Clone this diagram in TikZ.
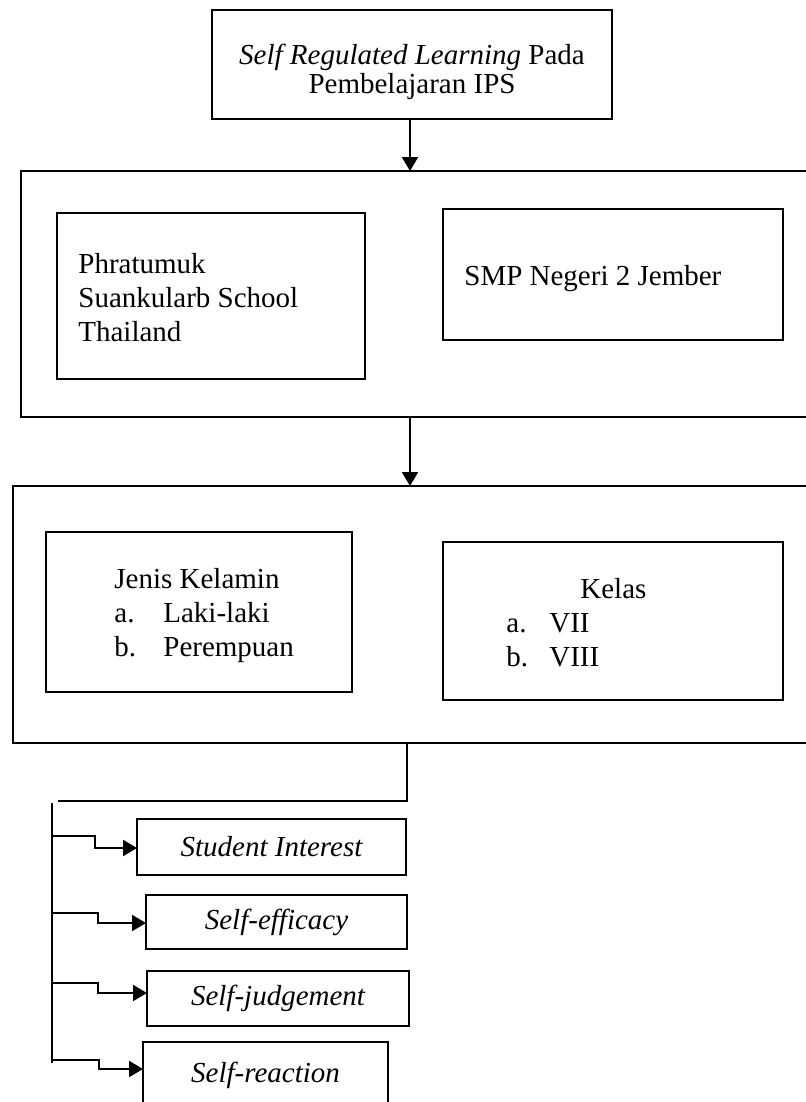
\documentclass[tikz,border=0pt]{standalone}
\usepackage{fontspec}
\setmainfont{Liberation Serif}
\usepackage{tikz}
\usetikzlibrary{arrows.meta,positioning}
\definecolor{ink}{HTML}{000000}
\definecolor{paper}{HTML}{FFFFFF}
\tikzset{
  box/.style={draw=ink, line width=1.2pt, inner sep=0pt, outer sep=0pt, anchor=north west},
  conn/.style={draw=ink, line width=1pt},
  arr/.style={conn, -{Triangle[length=7pt,width=8pt]}},
  lab/.style={text=ink, inner sep=0pt, font=\fontsize{14.5}{17}\selectfont},
  labi/.style={lab, font=\fontsize{14.5}{17}\selectfont\itshape},
}

\begin{document}
\begin{tikzpicture}[x=0.5pt,y=-0.5pt]
\useasboundingbox[fill=paper] (0,0) rectangle (806,1102);

% judul
\node[box, minimum width=200pt, minimum height=54.5pt] (srl) at (212,10) {};
\node[lab, anchor=base] (srl-t) at (412,65)
  {\fontsize{14.5}{14}\selectfont\begin{tabular}[t]{@{}c@{}}\textit{Self Regulated Learning} Pada\\ Pembelajaran IPS\end{tabular}};

% lokasi
\node[box, minimum width=397pt, minimum height=123pt] (lok) at (21,171) {};
\node[box, minimum width=154pt, minimum height=83pt] (phr) at (57,213) {};
\node[lab, anchor=base west] (phr-t) at (78,273)
  {\begin{tabular}[t]{@{}l@{}}Phratumuk\\ Suankularb School\\ Thailand\end{tabular}};
\node[box, minimum width=170pt, minimum height=65.5pt] (smp) at (443,209) {};
\node[lab, anchor=base west] (smp-t) at (464,285) {SMP Negeri 2 Jember};

% variabel
\node[box, minimum width=401pt, minimum height=128.5pt] (var) at (13,486) {};
\node[box, minimum width=153pt, minimum height=80pt] (jk) at (46,532) {};
\node[lab, anchor=base west] (jk-t) at (114,588)
  {\begin{tabular}[t]{@{}l@{}}Jenis Kelamin\\ \makebox[24.5pt][l]{a.}Laki-laki\\ \makebox[24.5pt][l]{b.}Perempuan\end{tabular}};
\node[box, minimum width=170pt, minimum height=79pt] (kls) at (443,542) {};
\node[lab, anchor=base west] (kls-t) at (506,598)
  {\begin{tabular}[t]{@{}l@{}}\hspace*{37pt}Kelas\\ \makebox[21.5pt][l]{a.}VII\\ \makebox[21.5pt][l]{b.}VIII\end{tabular}};

% indikator
\node[box, labi, minimum width=134.5pt, minimum height=28pt] (si) at (137,819) {Student Interest};
\node[box, labi, minimum width=130.5pt, minimum height=27pt] (se) at (146,895) {Self-efficacy};
\node[box, labi, minimum width=131pt, minimum height=27.5pt] (sj) at (147,971) {Self-judgement};
\node[box, labi, minimum width=122.5pt, minimum height=33pt] (sr) at (143,1042) {Self-reaction};

\coordinate (ax) at (410,0);
\draw[arr] (ax |- srl.south) -- (ax |- lok.north);
\draw[arr] (ax |- lok.south) -- (ax |- var.north);

\coordinate (turn) at (407,801);
\coordinate (busT) at (52,803);
\coordinate (busB) at (52,1063);
\draw[conn] (turn |- var.south) -- (turn) -- (58,801);
\draw[conn] (busT) -- (busB);
\foreach \bx/\ya/\xs/\yb in {si/836/95/848, se/913/98/923, sj/983/98/993, sr/1060/99/1069}
  \draw[arr] (52,\ya) -| (\xs,\yb) -- (\bx.west |- 0,\yb);
\end{tikzpicture}
\end{document}
